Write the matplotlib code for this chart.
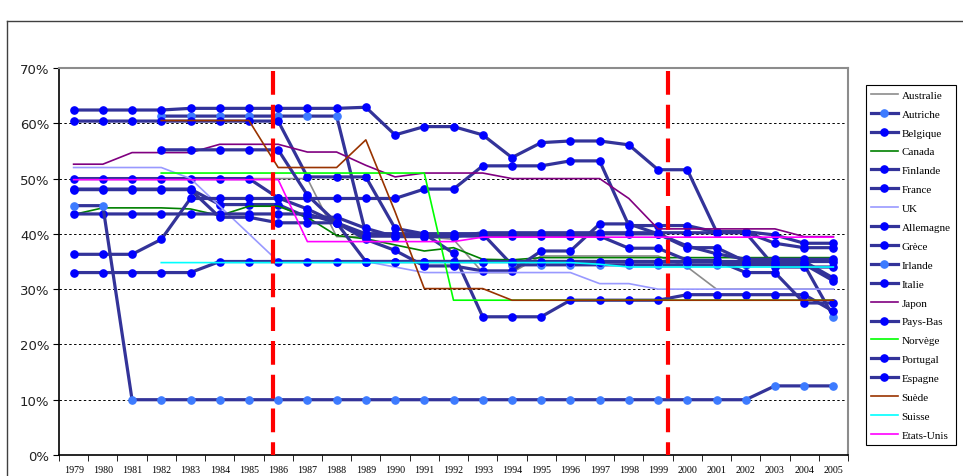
import numpy as np
import matplotlib.pyplot as plt
from matplotlib.lines import Line2D

nan = np.nan

# ====== DONNÉES (taux d'imposition des sociétés, %) ======
years = [str(y) for y in range(1979, 2006)]

australie = [50, 50, 50, 50, 50, 50, 50, 50, 50, 39.5, 39.5, 39.5, 39.5, 39, 33, 33,
             36, 36, 36, 36, 36, 34, 30, 30, 30, 30, 30]
autriche = [nan, nan, nan, 61.3, 61.3, 61.3, 61.3, 61.3, 61.3, 61.3, 40, 40, 40, 40, 40,
            34.4, 34.4, 34.4, 34.4, 34.4, 34.4, 34.4, 34.4, 34.4, 34.4, 34.4, 25]
belgique = [48.1, 48.1, 48.1, 48.1, 48.1, 45.3, 45.3, 45.3, 43, 43, 41, 39.5, 39.5, 39.5,
            40.2, 40.2, 40.2, 40.2, 40.2, 40.2, 40.2, 40.2, 40.2, 40.2, 34, 34, 34]
canada = [43.5, 44.7, 44.7, 44.7, 44.5, 43.3, 45.0, 45.0, 43.0, 39.7, 39.1, 38.0, 36.9, 37.5,
          35.4, 35.3, 35.7, 35.7, 35.7, 35.7, 35.7, 35.7, 35.7, 35.7, 35.7, 35.7, 35.7]
finlande = [60.4, 60.4, 60.4, 60.4, 60.4, 60.4, 60.4, 60.4, 50.3, 50.3, 50.3, 41.0, 40.0, 36.5,
            25, 25, 25, 28, 28, 28, 28, 29, 29, 29, 29, 29, 26]
france = [50, 50, 50, 50, 50, 50, 50, 46.5, 44.5, 42, 39, 37, 34.2, 34.2, 33.3, 33.3,
          36.9, 36.9, 41.8, 41.8, 40, 37.8, 36.4, 35.4, 35.4, 35.4, 35.4]
uk = [52, 52, 52, 52, 50, 45, 40, 35, 35, 35, 35, 34, 33, 33, 33, 33, 33, 33,
      31, 31, 30, 30, 30, 30, 30, 30, 30]
allemagne = [62.4, 62.4, 62.4, 62.4, 62.7, 62.7, 62.7, 62.7, 62.7, 62.7, 62.9, 57.9, 59.4, 59.4,
             57.9, 53.8, 56.5, 56.8, 56.8, 56.1, 51.6, 51.6, 40.4, 40.4, 39.8, 38.3, 38.3]
grece = [43.6, 43.6, 43.6, 43.6, 43.6, 43.6, 43.6, 43.6, 43.6, 42, 40, 40, 40, 40, 40, 40,
         40, 40, 40, 40, 40, 37.5, 37.5, 35, 35, 35, 32]
irlande = [45.1, 45.1, 10, 10, 10, 10, 10, 10, 10, 10, 10, 10, 10, 10, 10, 10, 10, 10,
           10, 10, 10, 10, 10, 10, 12.5, 12.5, 12.5]
italie = [36.3, 36.3, 36.3, 39.0, 46.4, 46.4, 46.4, 46.4, 46.4, 46.4, 46.4, 46.4, 48.1, 48.1,
          52.3, 52.3, 52.3, 53.2, 53.2, 41.5, 41.5, 41.5, 40.3, 40.3, 38.3, 37.5, 37.5]
japon = [52.6, 52.6, 54.7, 54.7, 54.7, 56.2, 56.2, 56.2, 54.8, 54.8, 52.4, 50.3, 51.0, 51.0,
         51.0, 50.0, 50.0, 50.0, 50.0, 46.4, 40.9, 40.9, 40.9, 40.9, 40.9, 39.5, 39.5]
pays_bas = [48, 48, 48, 48, 48, 43, 43, 42, 42, 42, 35, 35, 35, 35, 35, 35, 35, 35, 35,
            35, 35, 35, 35, 34.5, 34.5, 34.5, 31.5]
norvege = [nan, nan, nan, 51, 51, 51, 51, 51, 51, 51, 51, 51, 51, 28, 28, 28, 28, 28, 28,
           28, 28, 28, 28, 28, 28, 28, 28]
portugal = [nan, nan, nan, 55.2, 55.2, 55.2, 55.2, 55.2, 47, 42, 39.6, 39.6, 39.6, 39.6, 39.6,
            39.6, 39.6, 39.6, 39.6, 37.4, 37.4, 35.2, 35.2, 33, 33, 27.5, 27.5]
espagne = [33, 33, 33, 33, 33, 35, 35, 35, 35, 35, 35, 35, 35, 35, 35, 35, 35, 35, 35,
           35, 35, 35, 35, 35, 35, 35, 35]
suede = [nan, nan, nan, 60.5, 60.5, 60.5, 60.5, 52, 52, 52, 57, 44, 30.1, 30.1, 30.1,
         28, 28, 28, 28, 28, 28, 28, 28, 28, 28, 28, 28]
suisse = [nan, nan, nan, 34.8, 34.8, 34.8, 34.8, 34.8, 34.8, 34.8, 34.8, 34.8, 34.8, 34.8,
          34.8, 34.8, 34.8, 34.8, 34.5, 34.0, 34.0, 34.0, 34.0, 34.0, 34.0, 34.0, 34.0]
etats_unis = [49.8, 49.8, 49.8, 49.8, 49.8, 49.8, 49.8, 49.8, 38.6, 38.6, 38.6, 38.6, 38.6, 38.6,
              39.4, 39.4, 39.4, 39.4, 39.4, 39.4, 39.4, 39.4, 39.4, 39.4, 39.4, 39.4, 39.4]

series = [
    ("Australie", australie), ("Autriche", autriche), ("Belgique", belgique),
    ("Canada", canada), ("Finlande", finlande), ("France", france), ("UK", uk),
    ("Allemagne", allemagne), ("Grèce", grece), ("Irlande", irlande), ("Italie", italie),
    ("Japon", japon), ("Pays-Bas", pays_bas), ("Norvège", norvege), ("Portugal", portugal),
    ("Espagne", espagne), ("Suède", suede), ("Suisse", suisse), ("Etats-Unis", etats_unis),
]

# repères verticaux (position sur l'axe des catégories)
reperes = [6.82, 20.33]

# ====== STYLES ======
DARK = "#333399"
plain = {"Australie": "#8c8c8c", "Canada": "#008000", "UK": "#9999ff", "Japon": "#800080",
         "Norvège": "#00ff00", "Suède": "#993300", "Suisse": "#00ffff", "Etats-Unis": "#ff00ff"}
light_mk = {"Autriche", "Irlande"}

fig = plt.figure(figsize=(9.63, 4.77), dpi=100)
ax = fig.add_axes([59/963, 1-456/477, (848-59)/963, (456-69)/477])

x = np.arange(len(years))
for name, vals in series:
    if name in plain:
        ax.plot(x, vals, color=plain[name], lw=1.2, label=name, zorder=3)
    else:
        mc = "#3d7bff" if name in light_mk else "#0000ff"
        ax.plot(x, vals, color=DARK, lw=2.3, marker="o", ms=5.2, mfc=mc, mec=mc,
                label=name, zorder=3)

for r in reperes:
    ax.plot([r, r], [69.4, 0], color="red", lw=3, dashes=(5.7, 2.4), zorder=10,
            solid_capstyle="butt", dash_capstyle="butt")

for v in range(10, 70, 10):
    ax.axhline(v, color="black", lw=0.7, ls=(0, (2.5, 2.5)), zorder=1)

ax.set_xlim(-0.5, len(years) - 0.5)
ax.set_ylim(0, 70)
ax.set_yticks(range(0, 80, 10))
ax.set_yticklabels([f"{v}%" for v in range(0, 80, 10)], fontsize=9.5,
                   family="DejaVu Sans", color="#222222")
ax.set_xticks(x)
ax.set_xticklabels(years, fontsize=7.2, family="Liberation Serif")
ax.set_xticks(np.arange(-0.5, len(years), 1), minor=True)
ax.tick_params(axis="x", which="major", length=0, pad=7)
ax.tick_params(axis="x", which="minor", length=4, direction="out")
ax.tick_params(axis="y", length=4, direction="out", pad=3)

for s in ("left", "bottom"):
    ax.spines[s].set_color("black")
    ax.spines[s].set_linewidth(1.2)
for s in ("top", "right"):
    ax.spines[s].set_color("#8c8c8c")
    ax.spines[s].set_linewidth(1.5)

leg = fig.legend(loc="upper left", bbox_to_anchor=(866/963, 1-86/477),
                 bbox_transform=fig.transFigure, prop={"family": "Liberation Serif", "size": 8},
                 handlelength=2.4, handletextpad=0.35, labelspacing=0.82, borderpad=0.45,
                 numpoints=1, fancybox=False, framealpha=1, borderaxespad=0)
leg.get_frame().set_edgecolor("black")
leg.get_frame().set_linewidth(0.8)

# cadre extérieur du graphique
fig.add_artist(Line2D([7/963, 7/963], [0, 1-22/477], color="#404040", lw=1))
fig.add_artist(Line2D([7/963, 1], [1-22/477, 1-22/477], color="#404040", lw=1))

fig.savefig("out.png", dpi=100)
